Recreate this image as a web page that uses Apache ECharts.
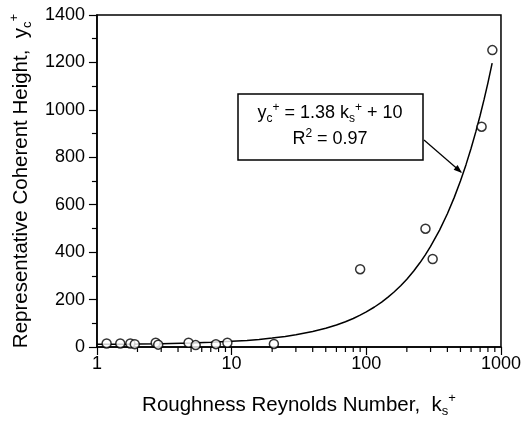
<!DOCTYPE html>
<html>
<head>
<meta charset="utf-8">
<script src="https://cdn.jsdelivr.net/npm/echarts@6/dist/echarts.min.js"></script>
<style>
  html, body { margin: 0; padding: 0; background: #fff; }
  #chart { width: 524px; height: 423px; }
</style>
</head>
<body>
<div id="chart"></div>
<script>
// measured points (ks+, yc+)
var ksPlus = [1.18, 1.49, 1.77, 1.91, 2.73, 2.85, 4.79, 5.41, 7.65, 9.3, 20.6, 90, 275, 311, 718, 863]
var ycPlus = [15, 15, 15, 12, 18, 10, 18, 8, 12, 18, 13, 328, 499, 371, 929, 1252]

// fitted curve yc+ = 1.38 ks+ + 10
var fitX = [1, 1.5, 2, 3, 5, 7, 10, 13, 16, 20, 25, 30, 40, 50, 60, 70, 80, 90, 100, 115, 130, 145, 160, 180, 200, 225, 250, 275, 300, 350, 400, 450, 500, 550, 600, 650, 700, 750, 800, 860]
var fitY = [11.4, 12.1, 12.8, 14.1, 16.9, 19.7, 23.8, 27.9, 32.1, 37.6, 44.5, 51.4, 65.2, 79, 92.8, 106.6, 120.4, 134.2, 148, 168.7, 189.4, 210.1, 230.8, 258.4, 286, 320.5, 355, 389.5, 424, 493, 562, 631, 700, 769, 838, 907, 976, 1045, 1114, 1197]

var xTickLabels = ['1', '10', '100', '1000']
var xMinorTicks = [2, 3, 4, 5, 6, 7, 8, 9, 20, 30, 40, 50, 60, 70, 80, 90, 200, 300, 400, 500, 600, 700, 800, 900]

var FONT = '"Liberation Sans", Arial, sans-serif'

var chart = echarts.init(document.getElementById('chart'))

var subStyle = { fontSize: 13, fontFamily: FONT, color: '#000', verticalAlign: 'bottom', lineHeight: 13 }
var supStyle = { fontSize: 13, fontFamily: FONT, color: '#000', verticalAlign: 'top', lineHeight: 13 }

var option = {
  animation: false,
  backgroundColor: '#fff',
  grid: {
    left: 89, right: 22, top: 15, bottom: 76,
    show: true, borderColor: '#000', borderWidth: 1.5
  },
  xAxis: {
    type: 'log', logBase: 10, min: 1, max: 1000,
    name: '{t|Roughness Reynolds Number,  k}{sub|s}{sup|+}',
    nameLocation: 'middle', nameGap: 45,
    nameTextStyle: {
      rich: {
        t: { fontSize: 20.5, fontFamily: FONT, color: '#000', lineHeight: 26 },
        sub: subStyle, sup: supStyle
      }
    },
    axisLine: { lineStyle: { color: '#000', width: 1.5 } },
    axisTick: { show: true, inside: false, length: 8, lineStyle: { color: '#000', width: 1.2 } },
    axisLabel: {
      margin: 8, fontSize: 18, fontFamily: FONT, color: '#000',
      formatter: function (v) { return xTickLabels[Math.round(Math.log10(v))] }
    },
    splitLine: { show: false }
  },
  yAxis: {
    type: 'value', min: 0, max: 1400, interval: 200,
    name: '{t|Representative Coherent Height,  y}{sub|c}{sup|+}',
    nameLocation: 'middle', nameGap: 53, nameRotate: 90,
    nameTextStyle: {
      rich: {
        t: { fontSize: 20.5, fontFamily: FONT, color: '#000', lineHeight: 26 },
        sub: subStyle, sup: supStyle
      }
    },
    axisLine: { show: true, lineStyle: { color: '#000', width: 1.5 } },
    axisTick: { show: true, inside: false, length: 8, lineStyle: { color: '#000', width: 1.2 } },
    minorTick: { show: true, splitNumber: 2, length: 5, lineStyle: { color: '#000', width: 1.2 } },
    axisLabel: {
      margin: 12, fontSize: 18, fontFamily: FONT, color: '#000',
      formatter: function (v) { return String(v) }
    },
    splitLine: { show: false }
  },
  series: [
    {
      // minor ticks of the log x axis
      type: 'custom',
      clip: false,
      silent: true,
      data: xMinorTicks.map(function (v) { return [v, 0] }),
      renderItem: function (params, api) {
        var p = api.coord([api.value(0), 0])
        return {
          type: 'line',
          shape: { x1: p[0], y1: p[1], x2: p[0], y2: p[1] + 5 },
          style: { stroke: '#000', lineWidth: 1.2 }
        }
      }
    },
    {
      type: 'line',
      data: fitX.map(function (x, i) { return [x, fitY[i]] }),
      showSymbol: false,
      smooth: false,
      lineStyle: { color: '#000', width: 1.5 },
      z: 3
    },
    {
      type: 'scatter',
      data: ksPlus.map(function (x, i) { return [x, ycPlus[i]] }),
      symbol: 'circle',
      symbolSize: 9,
      itemStyle: { color: '#fff', borderColor: '#000', borderWidth: 1.5 },
      z: 4
    }
  ],
  graphic: [
    {
      type: 'rect',
      shape: { x: 238, y: 94, width: 185, height: 66 },
      style: { fill: '#fff', stroke: '#000', lineWidth: 1.5 },
      z: 10
    },
    {
      type: 'text',
      x: 330, y: 113,
      style: {
        text: '{t|y}{sub|c}{sup|+}{t| = 1.38 k}{sub|s}{sup|+}{t| + 10}',
        align: 'center', verticalAlign: 'middle',
        rich: {
          t: { fontSize: 18, fontFamily: FONT, color: '#000', lineHeight: 23 },
          sub: { fontSize: 12, fontFamily: FONT, color: '#000', verticalAlign: 'bottom', lineHeight: 12 },
          sup: { fontSize: 12, fontFamily: FONT, color: '#000', verticalAlign: 'top', lineHeight: 12 }
        }
      },
      z: 11
    },
    {
      type: 'text',
      x: 330, y: 139,
      style: {
        text: '{t|R}{sup|2}{t| = 0.97}',
        align: 'center', verticalAlign: 'middle',
        rich: {
          t: { fontSize: 18, fontFamily: FONT, color: '#000', lineHeight: 23 },
          sup: { fontSize: 12, fontFamily: FONT, color: '#000', verticalAlign: 'top', lineHeight: 12 }
        }
      },
      z: 11
    },
    {
      type: 'line',
      shape: { x1: 424, y1: 140, x2: 461, y2: 172 },
      style: { stroke: '#000', lineWidth: 1.2 },
      z: 10
    },
    {
      type: 'polygon',
      shape: { points: [[462, 173], [457.6, 165.1], [453.6, 169.8]] },
      style: { fill: '#000' },
      z: 10
    }
  ]
}

chart.setOption(option)
</script>
</body>
</html>
